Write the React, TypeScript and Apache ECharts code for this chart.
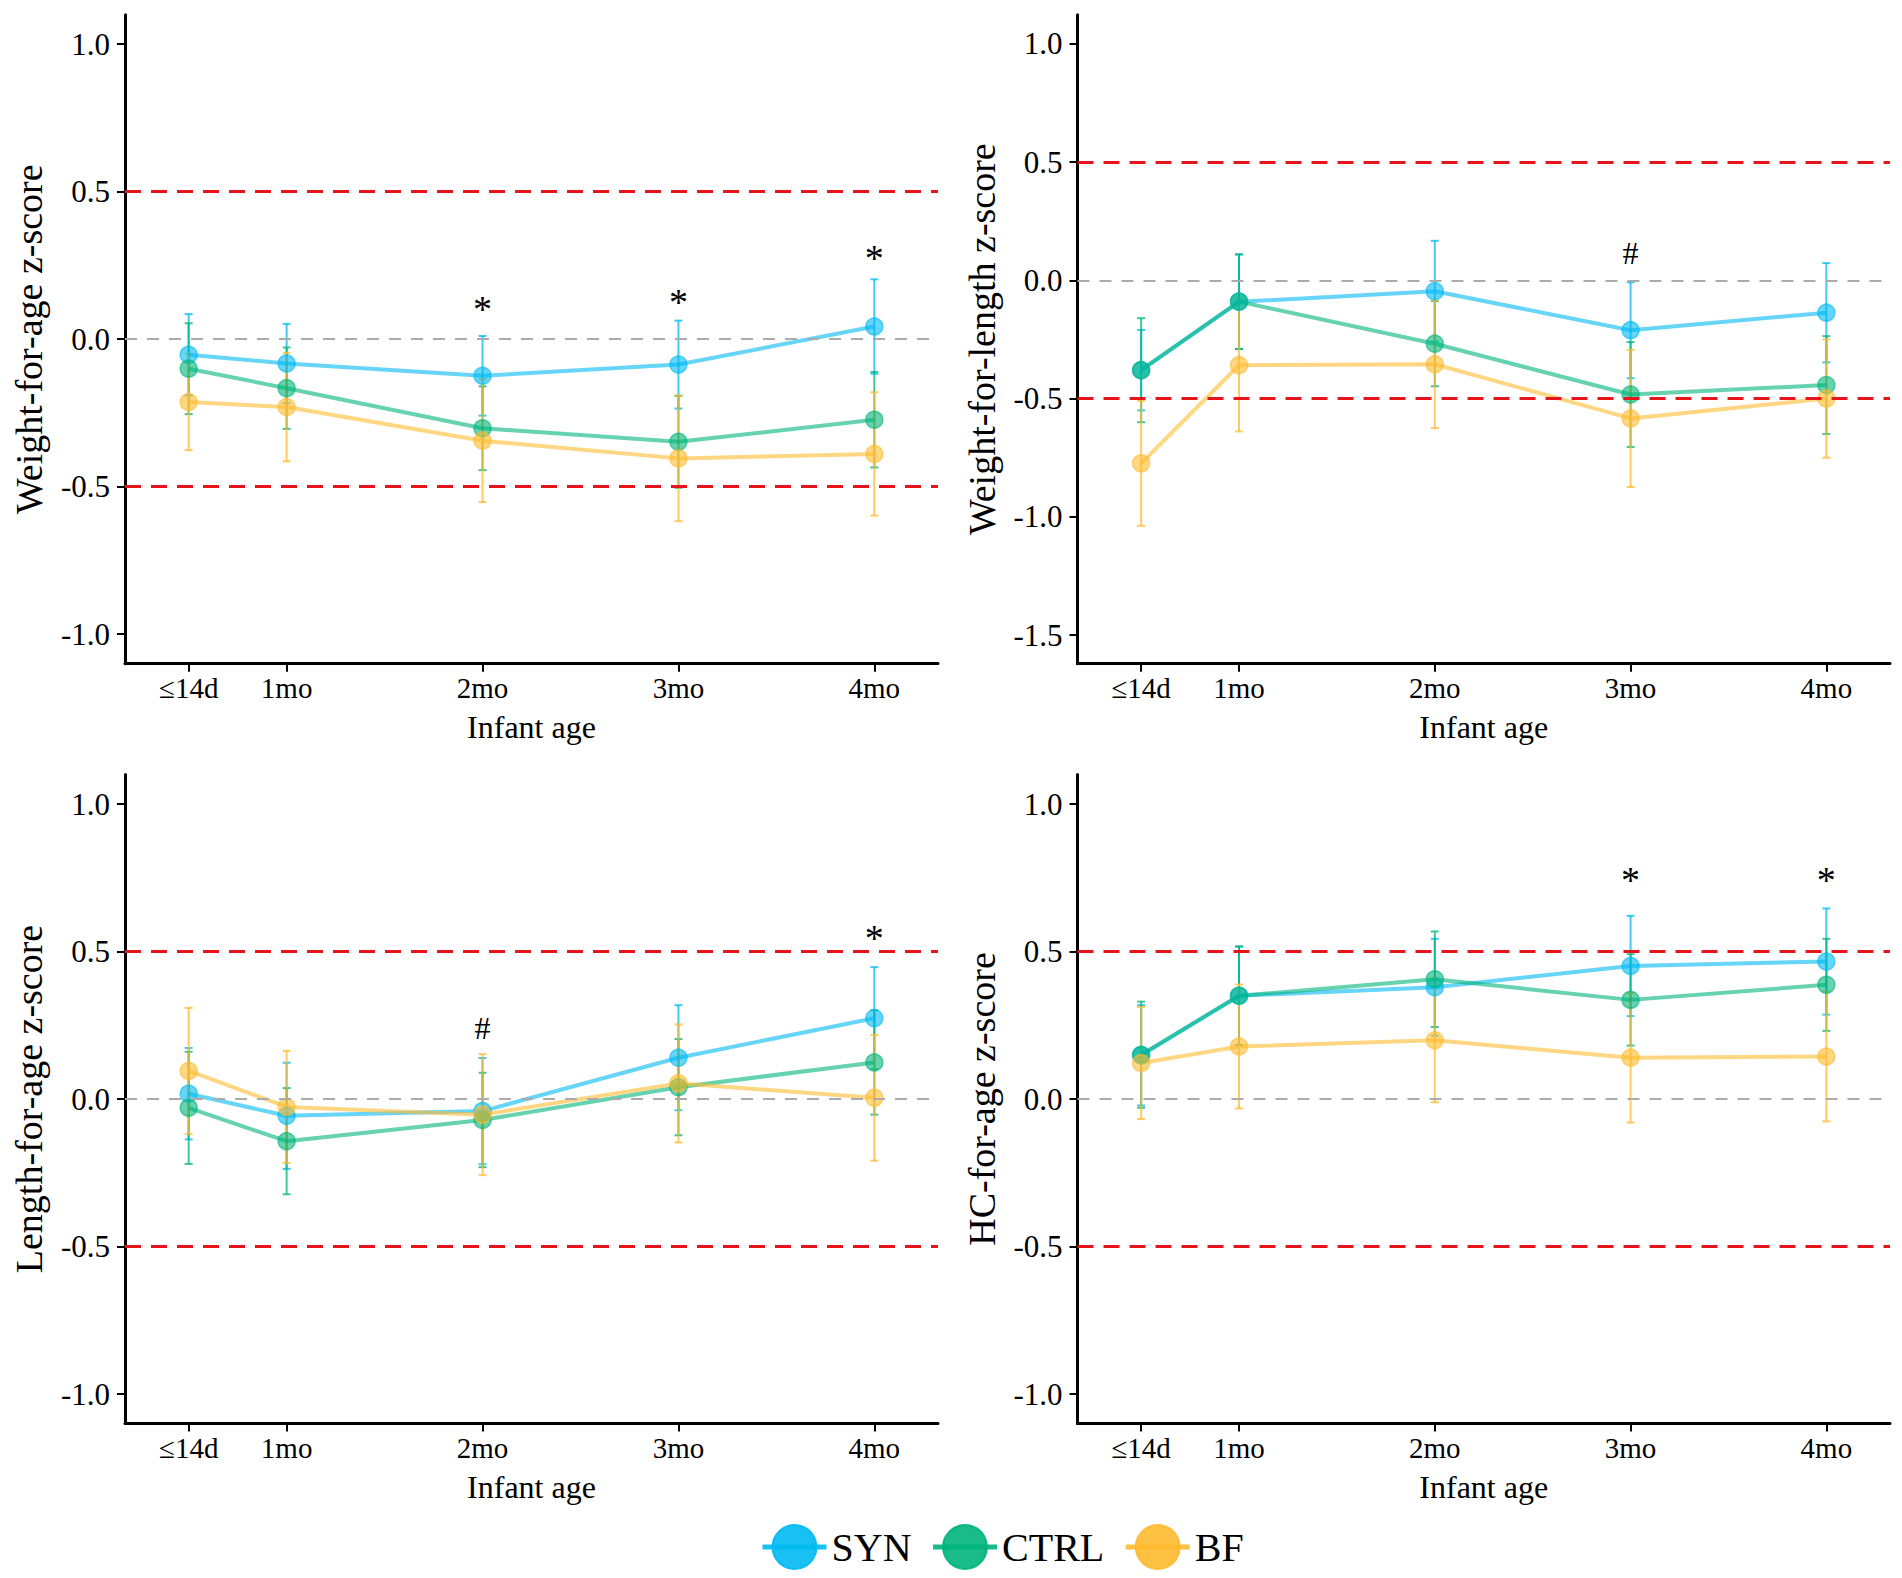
import React, { useEffect, useRef } from "react";
import * as echarts from "echarts";

// ---------- data ----------
const ages = [0.5, 1, 2, 3, 4];
const ageLabels = ["≤14d", "1mo", "2mo", "3mo", "4mo"];
const groups = ["SYN", "CTRL", "BF"];
const groupColors = ["#00B9F2", "#00B47A", "#FFBA2E"];
const refLines = [-0.5, 0, 0.5];

const yTicksStd = [-1, -0.5, 0, 0.5, 1];
const yTicksWfl = [-1.5, -1, -0.5, 0, 0.5, 1];

// Weight-for-age z-score
const wfaSyn = [-0.053, -0.082, -0.124, -0.086, 0.043];
const wfaSynErr = [0.138, 0.134, 0.135, 0.149, 0.16];
const wfaCtrl = [-0.1, -0.166, -0.302, -0.348, -0.273];
const wfaCtrlErr = [0.154, 0.138, 0.142, 0.156, 0.162];
const wfaBf = [-0.213, -0.23, -0.344, -0.404, -0.389];
const wfaBfErr = [0.163, 0.184, 0.208, 0.213, 0.209];
const wfaNoteX = [2, 3, 4];
const wfaNoteY = [0.127, 0.15, 0.3];
const wfaNoteText = ["*", "*", "*"];

// Weight-for-length z-score
const wflSyn = [-0.38, -0.091, -0.046, -0.211, -0.137];
const wflSynErr = [0.17, 0.2, 0.213, 0.203, 0.21];
const wflCtrl = [-0.38, -0.09, -0.268, -0.483, -0.443];
const wflCtrlErr = [0.22, 0.2, 0.18, 0.222, 0.207];
const wflBf = [-0.774, -0.359, -0.355, -0.584, -0.5];
const wflBfErr = [0.264, 0.28, 0.27, 0.29, 0.25];
const wflNoteX = [3];
const wflNoteY = [0.117];
const wflNoteText = ["#"];

// Length-for-age z-score
const lfaSyn = [0.018, -0.057, -0.041, 0.14, 0.274];
const lfaSynErr = [0.155, 0.18, 0.18, 0.178, 0.173];
const lfaCtrl = [-0.03, -0.143, -0.071, 0.04, 0.124];
const lfaCtrlErr = [0.19, 0.18, 0.16, 0.163, 0.177];
const lfaBf = [0.095, -0.027, -0.053, 0.053, 0.004];
const lfaBfErr = [0.214, 0.19, 0.205, 0.2, 0.213];
const lfaNoteX = [2, 4];
const lfaNoteY = [0.239, 0.569];
const lfaNoteText = ["#", "*"];

// HC-for-age z-score
const hcaSyn = [0.148, 0.35, 0.379, 0.451, 0.466];
const hcaSynErr = [0.17, 0.167, 0.164, 0.17, 0.18];
const hcaCtrl = [0.15, 0.35, 0.406, 0.336, 0.387];
const hcaCtrlErr = [0.18, 0.167, 0.162, 0.155, 0.156];
const hcaBf = [0.122, 0.178, 0.199, 0.14, 0.144];
const hcaBfErr = [0.19, 0.21, 0.21, 0.22, 0.22];
const hcaNoteX = [3, 4];
const hcaNoteY = [0.766, 0.766];
const hcaNoteText = ["*", "*"];

const panels = [
  {
    yName: "Weight-for-age z-score",
    yMin: -1.1, yMax: 1.1, yTicks: yTicksStd,
    means: [wfaSyn, wfaCtrl, wfaBf], errs: [wfaSynErr, wfaCtrlErr, wfaBfErr],
    noteX: wfaNoteX, noteY: wfaNoteY, noteText: wfaNoteText,
  },
  {
    yName: "Weight-for-length z-score",
    yMin: -1.621, yMax: 1.123, yTicks: yTicksWfl,
    means: [wflSyn, wflCtrl, wflBf], errs: [wflSynErr, wflCtrlErr, wflBfErr],
    noteX: wflNoteX, noteY: wflNoteY, noteText: wflNoteText,
  },
  {
    yName: "Length-for-age z-score",
    yMin: -1.1, yMax: 1.1, yTicks: yTicksStd,
    means: [lfaSyn, lfaCtrl, lfaBf], errs: [lfaSynErr, lfaCtrlErr, lfaBfErr],
    noteX: lfaNoteX, noteY: lfaNoteY, noteText: lfaNoteText,
  },
  {
    yName: "HC-for-age z-score",
    yMin: -1.1, yMax: 1.1, yTicks: yTicksStd,
    means: [hcaSyn, hcaCtrl, hcaBf], errs: [hcaSynErr, hcaCtrlErr, hcaBfErr],
    noteX: hcaNoteX, noteY: hcaNoteY, noteText: hcaNoteText,
  },
];

// ---------- layout / style ----------
const FONT = "'Liberation Serif', 'Times New Roman', serif";
const layout = [
  { left: 125, top: 14.7, width: 813, height: 649 },
  { left: 1077.5, top: 14.7, width: 812.5, height: 649 },
  { left: 125, top: 774.5, width: 813, height: 649 },
  { left: 1077.5, top: 774.5, width: 812.5, height: 649 },
];

function buildOption() {
  const grid: any[] = [];
  const xAxis: any[] = [];
  const yAxis: any[] = [];
  const series: any[] = [];

  panels.forEach((p, i) => {
    grid.push({ ...layout[i], containLabel: false, outerBoundsMode: "none" });
    xAxis.push({
      type: "value",
      gridIndex: i,
      min: 0.175,
      max: 4.325,
      name: "Infant age",
      nameLocation: "middle",
      nameGap: 47,
      nameTextStyle: { fontFamily: FONT, fontSize: 32, color: "#000" },
      axisLine: { onZero: false, lineStyle: { color: "#000", width: 3 } },
      axisTick: { show: true, customValues: ages, length: 8, lineStyle: { color: "#000", width: 2 } },
      axisLabel: {
        customValues: ages,
        formatter: (v: number) => {
          const k = ages.findIndex((a) => Math.abs(a - v) < 1e-6);
          return k >= 0 ? ageLabels[k] : "";
        },
        fontFamily: FONT,
        fontSize: 29,
        color: "#000",
        margin: 10,
      },
      splitLine: { show: false },
    });
    yAxis.push({
      type: "value",
      gridIndex: i,
      min: p.yMin,
      max: p.yMax,
      name: p.yName,
      nameLocation: "middle",
      nameRotate: 90,
      nameGap: 77,
      nameTextStyle: { fontFamily: FONT, fontSize: 38, color: "#000" },
      axisLine: { show: true, onZero: false, lineStyle: { color: "#000", width: 3 } },
      axisTick: { show: true, customValues: p.yTicks, length: 8, lineStyle: { color: "#000", width: 2 } },
      axisLabel: {
        customValues: p.yTicks,
        formatter: (v: number) => v.toFixed(1),
        fontFamily: FONT,
        fontSize: 31,
        color: "#000",
        margin: 15,
      },
      splitLine: { show: false },
    });

    // reference lines
    series.push({
      type: "line",
      name: "ref" + i,
      xAxisIndex: i,
      yAxisIndex: i,
      data: [],
      silent: true,
      z: 1,
      markLine: {
        silent: true,
        symbol: "none",
        label: { show: false },
        animation: false,
        data: refLines.map((v) => ({
          yAxis: v,
          lineStyle:
            v === 0
              ? { color: "#ababab", type: [12, 10], width: 2 }
              : { color: "#E8141B", type: [16, 10], width: 3 },
        })),
      },
    });

    // error bars
    groups.forEach((g, gi) => {
      const color = groupColors[gi];
      series.push({
        type: "custom",
        name: g + " error",
        xAxisIndex: i,
        yAxisIndex: i,
        silent: true,
        z: 2,
        encode: { x: 0, y: [1, 2] },
        data: ages.map((x, k) => [x, p.means[gi][k] - p.errs[gi][k], p.means[gi][k] + p.errs[gi][k]]),
        renderItem: (params: any, api: any) => {
          const x = api.value(0);
          const lo = api.coord([x, api.value(1)]);
          const hi = api.coord([x, api.value(2)]);
          const cap = 4;
          const style = { stroke: color, lineWidth: 2, opacity: 0.75 };
          return {
            type: "group",
            children: [
              { type: "line", shape: { x1: lo[0], y1: lo[1], x2: hi[0], y2: hi[1] }, style },
              { type: "line", shape: { x1: lo[0] - cap, y1: lo[1], x2: lo[0] + cap, y2: lo[1] }, style },
              { type: "line", shape: { x1: hi[0] - cap, y1: hi[1], x2: hi[0] + cap, y2: hi[1] }, style },
            ],
          };
        },
      });
    });

    // lines + points
    groups.forEach((g, gi) => {
      const color = groupColors[gi];
      series.push({
        type: "line",
        name: g,
        xAxisIndex: i,
        yAxisIndex: i,
        data: ages.map((x, k) => [x, p.means[gi][k]]),
        symbol: "circle",
        symbolSize: 17,
        showSymbol: true,
        silent: true,
        z: 3,
        color,
        lineStyle: { color, width: 4, opacity: 0.6 },
        itemStyle: { color, opacity: 0.6, borderColor: color, borderWidth: 1.5 },
        emphasis: { disabled: true },
      });
    });

    // significance annotations
    series.push({
      type: "custom",
      name: "notes" + i,
      xAxisIndex: i,
      yAxisIndex: i,
      silent: true,
      z: 4,
      encode: { x: 0, y: 1 },
      data: p.noteX.map((x, k) => [x, p.noteY[k]]),
      renderItem: (params: any, api: any) => {
        const pt = api.coord([api.value(0), api.value(1)]);
        const t = p.noteText[params.dataIndex];
        return {
          type: "text",
          x: pt[0],
          y: pt[1] + (t === "*" ? 7 : 0),
          style: {
            text: t,
            fontFamily: FONT,
            fontSize: t === "*" ? 38 : 32,
            fill: "#000",
            align: "center",
            verticalAlign: "middle",
          },
        };
      },
    });
  });

  return {
    animation: false,
    backgroundColor: "#fff",
    grid,
    xAxis,
    yAxis,
    legend: {
      data: groups,
      left: 755,
      top: 1519,
      itemWidth: 64,
      itemHeight: 55,
      itemGap: 19,
      selectedMode: false,
      textStyle: { fontFamily: FONT, fontSize: 40, color: "#000" },
      itemStyle: { opacity: 0.9 },
      lineStyle: { opacity: 0.9, width: 5 },
    },
    series,
  };
}

export default function App() {
  const ref = useRef<HTMLDivElement>(null);
  useEffect(() => {
    if (!ref.current) return;
    const chart = echarts.init(ref.current, undefined, { renderer: "svg" });
    chart.setOption(buildOption() as any);
    return () => chart.dispose();
  }, []);
  return (
    <div
      ref={ref}
      style={{ position: "fixed", left: 0, top: 0, width: 1902, height: 1578, background: "#fff" }}
    />
  );
}
